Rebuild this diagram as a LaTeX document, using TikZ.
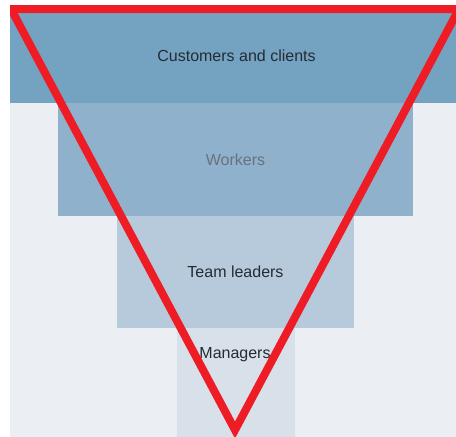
\documentclass[tikz,border=0pt]{standalone}
\usepackage{fontspec}
\setsansfont{Liberation Sans}
\usetikzlibrary{positioning}
\definecolor{paleback}{HTML}{EBEFF3}
\definecolor{tierA}{HTML}{74A3C2}
\definecolor{tierB}{HTML}{8FB1CB}
\definecolor{tierC}{HTML}{B7CADB}
\definecolor{tierD}{HTML}{D8E0E9}
\definecolor{inkdark}{HTML}{262B33}
\definecolor{inkgrey}{HTML}{68737D}
\definecolor{funnelred}{HTML}{EE1C25}

\begin{document}
\begin{tikzpicture}[
  x=1pt, y=-1pt,
  every node/.style={font=\sffamily\fontsize{16}{19}\selectfont, text=inkdark},
  tier/.style={inner sep=0pt, outer sep=0pt, anchor=north},
  funnel/.style={draw=funnelred, line width=8pt, miter limit=10}
]
  \useasboundingbox (0,0) rectangle (456,437);
  \clip (10,5) rectangle (456,437);
  \fill[paleback] (10,5) rectangle (456,437);

  % stacked tiers, widest on top
  \node[tier, fill=tierA, minimum width=446pt, minimum height=98pt] (cust) at (233,5) {};
  \node (custlab) at (236.5,56) {Customers and clients};
  \node[tier, fill=tierB, minimum width=355pt, minimum height=113pt,
        below=0pt of cust, xshift=2.5pt, text=inkgrey] (work) {Workers};
  \node[tier, fill=tierC, minimum width=237pt, minimum height=112pt,
        below=0pt of work] (lead) {Team leaders};
  \node[tier, fill=tierD, minimum width=118pt, minimum height=109pt,
        below=0pt of lead, xshift=0.5pt] (mgr) {};
  \node (mgrlab) at (235,355) {Managers};

  % the red inverted triangle over everything
  \draw[funnel] (11,9) -- (459,9) -- (235,430) -- cycle;
\end{tikzpicture}
\end{document}
